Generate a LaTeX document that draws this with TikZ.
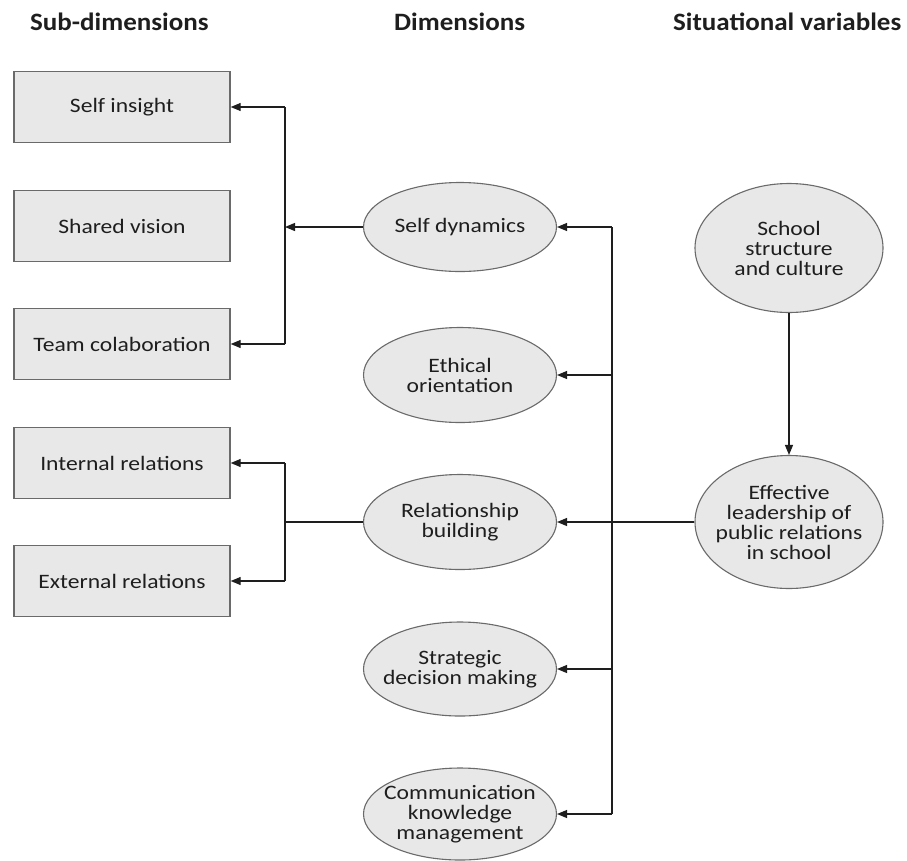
\documentclass[tikz,border=0pt]{standalone}
\usepackage{fontspec}
\setmainfont{Carlito}[FakeStretch=1.15]
\newfontfamily\headfont{Carlito}[FakeStretch=1.08]
\usetikzlibrary{shapes.geometric,arrows.meta}
\definecolor{shade}{HTML}{E8E8E8}
\definecolor{edge}{HTML}{6A6A6A}
\definecolor{ink}{HTML}{1E1E1E}
\tikzset{
  subbox/.style={draw=edge, line width=1.4pt, fill=shade, minimum width=216pt,
    minimum height=71pt, inner sep=0pt, font=\fontsize{20.5}{20}\selectfont, text=ink},
  % the ellipse size is fixed by the minimum sizes; the negative inner sep
  % keeps wide labels from enlarging the outline
  dimnode/.style={ellipse, draw=edge, line width=1.1pt, fill=shade, minimum width=193pt,
    minimum height=92pt, inner xsep=-30pt, inner ysep=-10pt, align=center,
    font=\fontsize{20.5}{20}\selectfont, text=ink},
  situnode/.style={dimnode, minimum width=188pt, minimum height=130pt},
  heading/.style={font=\headfont\bfseries\fontsize{25}{26}\selectfont, text=ink, anchor=base west, inner sep=0pt},
  wire/.style={draw=ink, line width=1.2pt},
  feed/.style={wire, -{Triangle[length=10pt,width=8pt]}}
}
\begin{document}
\begin{tikzpicture}[x=1pt,y=-1pt]
\useasboundingbox (0,0) rectangle (907,860);

% column headings
\node[heading] (h1) at (30,30) {Sub-dimensions};
\node[heading] (h2) at (394,30) {Dimensions};
\node[heading] (h3) at (673,30) {Situational variables};

% sub-dimensions
\node[subbox] (si) at (122,107) {Self insight};
\node[subbox] (sv) at (122,226) {Shared vision};
\node[subbox] (tc) at (122,344) {Team colaboration};
\node[subbox] (ir) at (122,463) {Internal relations};
\node[subbox] (er) at (122,581) {External relations};

% dimensions
\node[dimnode, minimum height=89pt] (sd) at (460,227) {Self dynamics};
\node[dimnode, minimum height=95pt] (eo) at (460,375) {Ethical\\orientation};
\node[dimnode, minimum height=95pt] (rb) at (460,522) {Relationship\\building};
\node[dimnode, minimum height=94pt] (sm) at (460,669) {Strategic\\decision making};
\node[dimnode, minimum height=92pt] (ck) at (460,814) {Communication\\knowledge\\management};

% situational variables
\node[situnode, minimum height=129pt] (sc) at (789,248) {School\\structure\\and culture};
\node[situnode, minimum height=133pt] (el) at (789,522) {Effective\\leadership of\\public relations\\in school};

% junction points
\coordinate (lj1) at (285,227);
\coordinate (lj2) at (285,522);
\coordinate (rt) at (612,227);
\coordinate (rb2) at (612,814);

% situational links
\draw[feed] (sc) -- (el);
\draw[feed] (el.west) -- (rb.east);

% distribution bus to all dimensions
\draw[wire] (rt) -- (rb2);
\draw[feed] (rt) -- (sd.east);
\draw[feed] (612,375) -- (eo.east);
\draw[feed] (612,669) -- (sm.east);
\draw[feed] (rb2) -- (ck.east);

% self dynamics branch
\draw[feed] (sd.west) -- (lj1);
\draw[wire] (285,107) -- (285,344);
\draw[feed] (285,107) -- (si.east);
\draw[feed] (285,344) -- (tc.east);

% relationship building branch
\draw[wire] (rb.west) -- (lj2);
\draw[wire] (285,463) -- (285,581);
\draw[feed] (285,463) -- (ir.east);
\draw[feed] (285,581) -- (er.east);
\end{tikzpicture}
\end{document}
